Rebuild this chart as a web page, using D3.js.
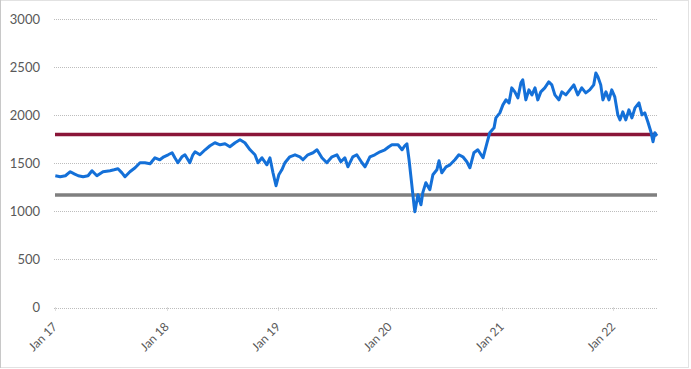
<!DOCTYPE html>
<html>
<head>
<meta charset="utf-8">
<script src="https://cdn.jsdelivr.net/npm/d3@7"></script>
<style>
	body { margin: 0; background: white; }
	svg { display: block; }
	text { font-family: Lato, "Open Sans", sans-serif; fill: #595959; }
</style>
</head>
<body>
<div id="chart"></div>
<script>

// Index level (roughly every 1-2 weeks).
let dates = [
	"2017-01-02","2017-01-18","2017-02-04","2017-02-20","2017-03-05","2017-03-18","2017-04-03","2017-04-19",
	"2017-05-02","2017-05-18","2017-06-07","2017-06-30","2017-07-13","2017-07-26","2017-08-08","2017-08-18",
	"2017-09-03","2017-09-20","2017-10-06","2017-10-22","2017-11-08","2017-11-24","2017-12-10","2017-12-23",
	"2018-01-06","2018-01-19","2018-01-28","2018-02-07","2018-02-20","2018-03-02","2018-03-12","2018-03-18",
	"2018-03-28","2018-04-04","2018-04-20","2018-05-07","2018-05-23","2018-06-08","2018-06-25","2018-07-11",
	"2018-07-27","2018-08-13","2018-08-29","2018-09-14","2018-10-01","2018-10-17","2018-10-27","2018-11-09",
	"2018-11-25","2018-12-05","2018-12-15","2018-12-25","2019-01-03","2019-01-13","2019-01-23","2019-02-08",
	"2019-02-25","2019-03-13","2019-03-23","2019-04-08","2019-04-25","2019-05-08","2019-05-24","2019-06-09",
	"2019-06-26","2019-07-12","2019-07-25","2019-08-07","2019-08-17","2019-09-02","2019-09-15","2019-10-02",
	"2019-10-12","2019-10-28","2019-11-13","2019-11-30","2019-12-16","2019-12-29","2020-01-08","2020-01-28",
	"2020-02-10","2020-02-19","2020-02-26","2020-03-04","2020-03-13","2020-03-20","2020-03-23","2020-04-02",
	"2020-04-12","2020-04-18","2020-04-28","2020-05-11","2020-05-21","2020-06-03","2020-06-10","2020-06-19",
	"2020-07-03","2020-07-16","2020-08-01","2020-08-14","2020-08-27","2020-09-09","2020-09-19","2020-10-02",
	"2020-10-15","2020-11-01","2020-11-14","2020-11-23","2020-12-07","2020-12-13","2020-12-26","2021-01-05",
	"2021-01-15","2021-01-25","2021-02-03","2021-02-13","2021-02-23","2021-03-05","2021-03-11","2021-03-21",
	"2021-03-31","2021-04-10","2021-04-20","2021-04-29","2021-05-09","2021-05-22","2021-06-04","2021-06-14",
	"2021-06-24","2021-07-07","2021-07-17","2021-07-30","2021-08-12","2021-08-25","2021-09-07","2021-09-20",
	"2021-10-03","2021-10-16","2021-10-29","2021-11-05","2021-11-12","2021-11-21","2021-11-28","2021-12-08",
	"2021-12-18","2021-12-27","2022-01-06","2022-01-16","2022-01-23","2022-02-01","2022-02-11","2022-02-21",
	"2022-03-03","2022-03-13","2022-03-26","2022-04-05","2022-04-14","2022-04-24","2022-05-04","2022-05-11",
	"2022-05-17","2022-05-24"
]

let values = [
	1370,1360,1370,1412,1390,1370,1360,1370,
	1422,1370,1412,1422,1432,1443,1400,1360,
	1412,1453,1505,1505,1495,1557,1536,1567,
	1588,1609,1557,1505,1567,1588,1536,1505,
	1588,1619,1588,1640,1682,1713,1692,1702,
	1671,1713,1744,1713,1640,1588,1505,1557,
	1484,1557,1401,1266,1380,1432,1505,1567,
	1588,1567,1536,1588,1609,1640,1557,1505,
	1567,1588,1515,1557,1463,1567,1588,1505,
	1463,1567,1588,1619,1640,1671,1692,1692,
	1640,1682,1702,1536,1277,1069,996,1173,
	1069,1194,1298,1225,1380,1432,1526,1401,
	1463,1484,1536,1588,1567,1515,1453,1609,
	1640,1557,1713,1817,1868,1972,2024,2107,
	2159,2128,2284,2242,2180,2336,2367,2159,
	2263,2211,2284,2159,2242,2284,2346,2315,
	2211,2159,2242,2211,2263,2315,2211,2284,
	2232,2263,2315,2439,2398,2315,2159,2242,
	2159,2263,2190,2003,1951,2034,1951,2055,
	1972,2076,2128,2003,2024,1931,1827,1723,
	1817,1785
]

// Horizontal reference levels.
let upperlevel = 1800
let lowerlevel = 1170

let yticks = [0, 500, 1000, 1500, 2000, 2500, 3000]
let xticks = ["2017-01-01","2018-01-01","2019-01-01","2020-01-01","2021-01-01","2022-01-01"]
let xdomain = ["2017-01-01", "2022-05-24"]


let width = 691
let height = 369
let margin = {left: 55, right: 34, top: 19, bottom: 61}

let parse = d3.timeParse("%Y-%m-%d")
let series = dates.map((d,i)=>({date: parse(d), value: values[i]}))

let svg = d3.select("#chart")
  .append("svg")
	.attr("width", width)
	.attr("height", height)

// Chart area outline.
svg.append("rect")
	.attr("x", 0.5).attr("y", 0.5)
	.attr("width", 688).attr("height", 367)
	.attr("fill", "white")
	.attr("stroke", "#c4c4c4")
	.attr("stroke-dasharray", "1,1")
svg.append("line")
	.attr("x1", 0.5).attr("x2", 0.5)
	.attr("y1", 0).attr("y2", 368)
	.attr("stroke", "#c8c8c8")

let x = d3.scaleTime()
	.domain(xdomain.map(parse))
	.range([margin.left, width - margin.right])

let y = d3.scaleLinear()
	.domain([0, 3000])
	.range([height - margin.bottom - 0.5, margin.top])


// Gridlines.
svg.append("g")
  .selectAll("line")
  .data(yticks)
  .enter()
  .append("line")
	.attr("x1", margin.left - 1)
	.attr("x2", width - margin.right)
	.attr("y1", d=>Math.round(y(d)) + 0.5)
	.attr("y2", d=>Math.round(y(d)) + 0.5)
	.attr("stroke", "#bdbdbd")
	.attr("stroke-dasharray", "1,1")

// Y labels.
svg.append("g")
  .selectAll("text")
  .data(yticks)
  .enter()
  .append("text")
	.attr("x", 40)
	.attr("y", d=>y(d))
	.attr("dy", "0.35em")
	.attr("text-anchor", "end")
	.style("font-size", "13px")
	.text(d=>d)

// X tick marks and labels.
let xg = svg.append("g")
xg.selectAll("line")
  .data(xticks.map(parse))
  .enter()
  .append("line")
	.attr("x1", d=>Math.round(x(d)) + 0.5)
	.attr("x2", d=>Math.round(x(d)) + 0.5)
	.attr("y1", y(0))
	.attr("y2", y(0) + 4)
	.attr("stroke", "#bdbdbd")
	.attr("stroke-dasharray", "1,1")

let fmt = d3.timeFormat("%b %y")
xg.selectAll("text")
  .data(xticks.map(parse))
  .enter()
  .append("text")
	.attr("transform", d=>`translate(${x(d) + 3},${y(0) + 20}) rotate(-45)`)
	.attr("text-anchor", "end")
	.style("font-size", "12px")
	.text(d=>fmt(d))


// Reference levels.
let levels = [
	{value: lowerlevel, color: "#7f7f7f"},
	{value: upperlevel, color: "#8a1538"}
]
svg.append("g")
  .selectAll("line")
  .data(levels)
  .enter()
  .append("line")
	.attr("x1", margin.left)
	.attr("x2", width - margin.right)
	.attr("y1", d=>y(d.value))
	.attr("y2", d=>y(d.value))
	.attr("stroke", d=>d.color)
	.attr("stroke-width", 3.5)


// Index line.
let line = d3.line()
	.x(d=>x(d.date))
	.y(d=>y(d.value))

svg.append("path")
	.datum(series)
	.attr("d", line)
	.attr("fill", "none")
	.attr("stroke", "#1470d8")
	.attr("stroke-width", 3)
	.attr("stroke-linejoin", "round")

</script>
</body>
</html>
